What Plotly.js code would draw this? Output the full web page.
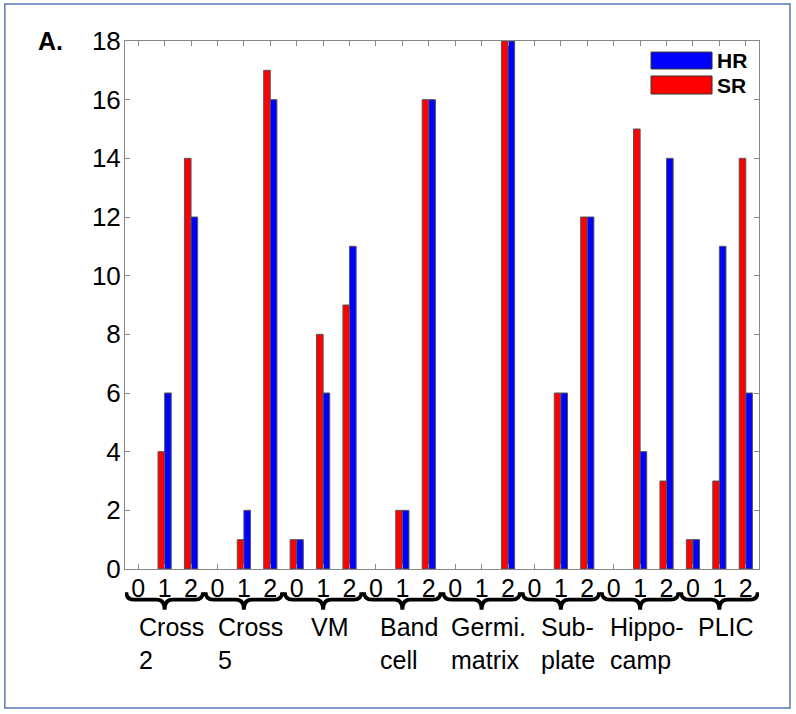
<!DOCTYPE html>
<html>
<head>
<meta charset="utf-8">
<script src="https://cdn.plot.ly/plotly-3.0.1.min.js"></script>
<style>html,body{margin:0;padding:0;background:#fff;}#chart{width:796px;height:714px;}</style>
</head>
<body>
<div id="chart"></div>
<script>
// ---- data ----
const groups = ["Cross<br>2", "Cross<br>5", "VM", "Band<br>cell", "Germi.<br>matrix", "Sub-<br>plate", "Hippo-<br>camp", "PLIC"];
const levels = ["0", "1", "2"];
const srValues = [0, 4, 14,  0, 1, 17,  1, 8, 9,  0, 2, 16,  0, 0, 18,  0, 6, 12,  0, 15, 3,  1, 3, 14];
const hrValues = [0, 6, 12,  0, 2, 16,  1, 6, 11,  0, 2, 16,  0, 0, 18,  0, 6, 12,  0, 4, 14,  1, 11, 6];
const seriesNames = ["SR", "HR"];
const yTicks = [0, 2, 4, 6, 8, 10, 12, 14, 16, 18];

// ---- derived ----
const positions = [];
const tickText = [];
groups.forEach((g, gi) => levels.forEach((l, li) => { positions.push(gi * levels.length + li + 1); tickText.push(l); }));
const FONT = "Arial, 'Liberation Sans', sans-serif";

function lineWidths(vals) { return vals.map(v => v === 0 ? 0 : 1); }

const traces = [
  { type: "bar", name: seriesNames[0], x: positions, y: srValues,
    marker: { color: "#ff0000", line: { color: "#555555", width: lineWidths(srValues) } } },
  { type: "bar", name: seriesNames[1], x: positions, y: hrValues,
    marker: { color: "#0000ff", line: { color: "#555555", width: lineWidths(hrValues) } } }
];

const shapes = [];
const annotations = [];

// braces under each group
const yTop = -0.044, yMid = -0.058, yTip = -0.077;
groups.forEach((g, gi) => {
  const c = gi * levels.length + 2;
  const w = 1.45, r = 0.3;
  const p = `M${c - w},${yTop} Q${c - w},${yMid} ${c - w + r},${yMid} L${c - r},${yMid} Q${c},${yMid} ${c},${yTip} ` +
            `Q${c},${yMid} ${c + r},${yMid} L${c + w - r},${yMid} Q${c + w},${yMid} ${c + w},${yTop}`;
  shapes.push({ type: "path", xref: "x", yref: "paper", path: p, line: { color: "#000", width: 3.8 } });
  annotations.push({ x: c, y: -0.08, xref: "x", yref: "paper", xanchor: "center", yanchor: "top",
    xshift: 7, align: "left", showarrow: false, text: g, font: { family: FONT, size: 25, color: "#000" } });
});

// legend (drawn manually, wide swatches)
shapes.push({ type: "rect", xref: "paper", yref: "paper", x0: 0.8297, x1: 0.9259, y0: 0.947, y1: 0.979,
  fillcolor: "#0000ff", line: { color: "#333", width: 1 } });
shapes.push({ type: "rect", xref: "paper", yref: "paper", x0: 0.8297, x1: 0.9259, y0: 0.8996, y1: 0.9337,
  fillcolor: "#ff0000", line: { color: "#333", width: 1 } });
annotations.push({ x: 0.932, y: 0.964, xref: "paper", yref: "paper", xanchor: "left", yanchor: "middle",
  borderpad: 0, showarrow: false, text: "<b>" + seriesNames[1] + "</b>", font: { family: FONT, size: 21, color: "#000" } });
annotations.push({ x: 0.932, y: 0.9157, xref: "paper", yref: "paper", xanchor: "left", yanchor: "middle",
  borderpad: 0, showarrow: false, text: "<b>" + seriesNames[0] + "</b>", font: { family: FONT, size: 21, color: "#000" } });

// panel label
annotations.push({ x: -0.141, y: 1.0, xref: "paper", yref: "paper", xanchor: "left", yanchor: "middle",
  showarrow: false, text: "<b>A.</b>", font: { family: FONT, size: 25, color: "#000" } });

// outer frame
shapes.push({ type: "rect", xref: "paper", yref: "paper", x0: -0.1895, x1: 1.0489, y0: -0.2633, y1: 1.0701,
  line: { color: "#5a78b0", width: 1.5 }, fillcolor: "rgba(0,0,0,0)" });

const layout = {
  width: 796, height: 714,
  margin: { l: 125, r: 37, t: 41, b: 145 },
  paper_bgcolor: "#fff", plot_bgcolor: "#fff",
  showlegend: false,
  barmode: "group", bargap: 0.5, bargroupgap: 0,
  font: { family: FONT, color: "#000" },
  xaxis: {
    range: [0.5, 24.5], tickmode: "array", tickvals: positions, ticktext: tickText,
    ticks: "inside", ticklen: 5, tickcolor: "#888", showline: true, linecolor: "#888", linewidth: 1,
    mirror: "ticks", showgrid: false, zeroline: false, ticklabelstandoff: -3,
    tickfont: { family: FONT, size: 25, color: "#000" }
  },
  yaxis: {
    range: [0, 18], tickmode: "array", tickvals: yTicks,
    ticks: "inside", ticklen: 5, tickcolor: "#888", showline: true, linecolor: "#888", linewidth: 1,
    mirror: "ticks", showgrid: false, zeroline: false, ticklabelstandoff: -2,
    tickfont: { family: FONT, size: 26, color: "#000" }
  },
  shapes: shapes,
  annotations: annotations
};

Plotly.newPlot("chart", traces, layout, { displayModeBar: false, staticPlot: true });
</script>
</body>
</html>
